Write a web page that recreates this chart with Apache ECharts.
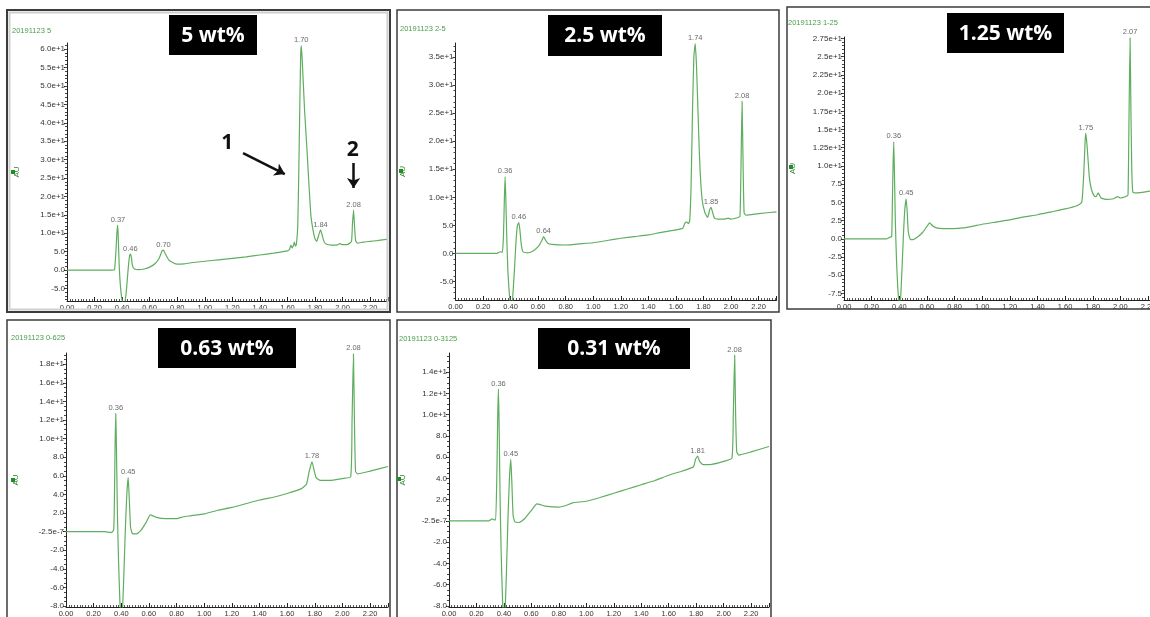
<!DOCTYPE html>
<html><head><meta charset="utf-8">
<script src="https://cdn.jsdelivr.net/npm/echarts@6/dist/echarts.min.js"></script>
<style>html,body{margin:0;padding:0;background:#fff}#c{width:1150px;height:617px}</style>
</head><body><div id="c"></div>
<script>
// ---------- DATA ----------
const concLabels = ['5 wt%', '2.5 wt%', '1.25 wt%', '0.63 wt%', '0.31 wt%'];
const sampleNames = ['20191123 5', '20191123 2-5', '20191123 1-25', '20191123 0-625', '20191123 0-3125'];

const t1 = [0,0.20,0.33,0.345,0.355,0.362,0.368,0.372,0.378,0.385,0.395,0.405,0.418,0.43,0.44,0.448,0.455,0.46,0.467,0.475,0.49,0.52,0.56,0.60,0.64,0.67,0.69,0.70,0.715,0.74,0.77,0.80,0.85,0.90,1.00,1.10,1.20,1.30,1.40,1.50,1.60,1.615,1.625,1.635,1.645,1.65,1.658,1.665,1.675,1.683,1.69,1.696,1.70,1.706,1.715,1.725,1.74,1.755,1.77,1.785,1.80,1.812,1.825,1.84,1.85,1.865,1.88,1.92,1.96,1.98,2.00,2.04,2.065,2.072,2.08,2.087,2.095,2.11,2.15,2.20,2.25,2.33];
const v1 = [0,0,0,0.1,5,10,12.2,9,2,-3,-7,-9,-9,-6,-1.5,2,4,4.35,3.5,1.2,0.3,0.1,0.3,0.8,1.8,3.3,5.2,5.4,4.3,2.7,2.0,1.6,1.7,2.0,2.4,2.8,3.2,3.6,4.1,4.6,5.2,5.6,6.8,6.0,6.8,7.6,6.5,7.0,12,28,45,58,61,58,51,43,34,24,15,11,8.5,7.8,9.2,10.9,9.8,7.8,7.1,6.8,6.8,7.2,6.9,7.0,7.8,12.5,16.3,12,8,7.3,7.6,7.8,8.0,8.4];

const t2 = [0,0.30,0.325,0.34,0.348,0.355,0.36,0.365,0.372,0.38,0.39,0.40,0.41,0.42,0.43,0.44,0.45,0.46,0.468,0.478,0.49,0.52,0.56,0.60,0.625,0.64,0.655,0.67,0.70,0.80,0.90,1.00,1.10,1.20,1.30,1.40,1.50,1.60,1.65,1.665,1.68,1.69,1.70,1.71,1.72,1.73,1.74,1.75,1.765,1.775,1.79,1.81,1.83,1.845,1.855,1.865,1.88,1.90,1.95,1.98,2.00,2.05,2.065,2.072,2.08,2.088,2.095,2.11,2.20,2.33];
const v2 = [0,0,0.3,0.2,3,10,13.7,10,3,-3,-7,-9,-9,-6,-2,2.5,5,5.5,4,1.5,0.3,0.1,0.4,1.2,2.2,3.0,2.3,1.8,1.6,1.5,1.7,1.9,2.3,2.7,3.0,3.3,3.8,4.2,4.5,5.4,5.6,5.3,5.8,12,25,35,37.4,33,21.5,15,9.6,7.3,6.4,7.8,8.2,7.4,6.3,6.1,6.1,6.3,6.1,6.4,6.6,15,27.1,15,7.2,6.8,7.1,7.4];

const t3 = [0,0.31,0.33,0.345,0.35,0.355,0.36,0.365,0.372,0.38,0.39,0.40,0.41,0.42,0.43,0.44,0.45,0.458,0.465,0.48,0.50,0.53,0.57,0.60,0.62,0.64,0.67,0.72,0.80,0.90,1.00,1.10,1.20,1.30,1.40,1.50,1.60,1.68,1.72,1.735,1.745,1.75,1.76,1.775,1.79,1.81,1.825,1.84,1.86,1.90,1.95,1.98,2.00,2.04,2.055,2.062,2.07,2.076,2.082,2.09,2.12,2.20,2.33];
const v3 = [0,0,0.2,0.3,5,10,13.3,9,2,-3,-7,-9,-8,-4,0.5,4,5.5,3.5,1,-0.1,-0.1,0.2,0.9,1.7,2.2,1.8,1.5,1.4,1.4,1.6,2.0,2.3,2.6,3.0,3.3,3.7,4.1,4.5,5.0,9,13.5,14.5,12.5,8.5,6.8,5.9,5.8,6.3,5.6,5.4,5.5,5.8,5.6,5.8,6.0,16,27.6,18,10,6.4,6.3,6.5,6.8];

const t4 = [0,0.28,0.30,0.33,0.345,0.35,0.355,0.36,0.365,0.372,0.38,0.39,0.40,0.41,0.42,0.43,0.44,0.45,0.458,0.467,0.48,0.51,0.54,0.58,0.61,0.63,0.66,0.72,0.80,0.85,0.90,1.00,1.10,1.20,1.30,1.40,1.50,1.60,1.70,1.74,1.76,1.78,1.795,1.81,1.84,1.90,2.00,2.06,2.07,2.08,2.087,2.095,2.11,2.20,2.33];
const v4 = [0,0,-0.05,-0.1,0.2,3,9,12.7,9,2,-3,-7.5,-9,-8,-4,0.5,4,5.8,3.5,0.5,-0.2,-0.25,0.1,1.0,1.8,1.7,1.5,1.4,1.4,1.6,1.7,1.9,2.3,2.6,3.0,3.4,3.7,4.1,4.6,5.1,6.5,7.5,6.6,5.8,5.5,5.5,5.7,5.9,12,19.1,12,6.5,6.2,6.5,7.0];

const t5 = [0,0.29,0.315,0.33,0.34,0.348,0.355,0.36,0.365,0.372,0.38,0.39,0.40,0.41,0.42,0.43,0.44,0.45,0.458,0.467,0.48,0.51,0.55,0.60,0.64,0.66,0.70,0.80,0.85,0.90,1.00,1.10,1.20,1.30,1.40,1.50,1.60,1.70,1.78,1.795,1.81,1.825,1.85,1.90,2.00,2.06,2.07,2.08,2.087,2.095,2.11,2.20,2.33];
const v5 = [0,0,0.2,0.1,0.1,4,10,12.4,9,2,-3,-7.5,-9,-8,-4,0.5,4,5.8,3.5,0.5,-0.1,-0.15,0.2,1.0,1.6,1.55,1.4,1.3,1.45,1.7,1.85,2.2,2.6,3.0,3.4,3.8,4.3,4.7,5.1,5.8,6.1,5.6,5.3,5.3,5.6,5.9,10,15.6,10,6.5,6.2,6.5,7.0];

// peak annotations: position (time, value) and printed retention time
const peakT1 = [0.37,0.46,0.70,1.70,1.84,2.08], peakV1 = [12.2,4.35,5.4,61,10.9,16.3], peakL1 = ['0.37','0.46','0.70','1.70','1.84','2.08'];
const peakT2 = [0.36,0.46,0.64,1.74,1.855,2.08], peakV2 = [13.7,5.5,3.0,37.4,8.2,27.1], peakL2 = ['0.36','0.46','0.64','1.74','1.85','2.08'];
const peakT3 = [0.36,0.45,1.75,2.07], peakV3 = [13.3,5.5,14.5,27.6], peakL3 = ['0.36','0.45','1.75','2.07'];
const peakT4 = [0.36,0.45,1.78,2.08], peakV4 = [12.7,5.8,7.5,19.1], peakL4 = ['0.36','0.45','1.78','2.08'];
const peakT5 = [0.36,0.45,1.81,2.08], peakV5 = [12.4,5.8,6.1,15.6], peakL5 = ['0.36','0.45','1.81','2.08'];

// y tick values and labels
const yTicks1 = [-5,0,5,10,15,20,25,30,35,40,45,50,55,60];
const yLabels1 = ['-5.0','0.0','5.0','1.0e+1','1.5e+1','2.0e+1','2.5e+1','3.0e+1','3.5e+1','4.0e+1','4.5e+1','5.0e+1','5.5e+1','6.0e+1'];
const yTicks2 = [-5,0,5,10,15,20,25,30,35];
const yLabels2 = ['-5.0','0.0','5.0','1.0e+1','1.5e+1','2.0e+1','2.5e+1','3.0e+1','3.5e+1'];
const yTicks3 = [-7.5,-5,-2.5,0,2.5,5,7.5,10,12.5,15,17.5,20,22.5,25,27.5];
const yLabels3 = ['-7.5','-5.0','-2.5','0.0','2.5','5.0','7.5','1.0e+1','1.25e+1','1.5e+1','1.75e+1','2.0e+1','2.25e+1','2.5e+1','2.75e+1'];
const yTicks4 = [-8,-6,-4,-2,0,2,4,6,8,10,12,14,16,18];
const yLabels4 = ['-8.0','-6.0','-4.0','-2.0','-2.5e-7','2.0','4.0','6.0','8.0','1.0e+1','1.2e+1','1.4e+1','1.6e+1','1.8e+1'];
const yTicks5 = [-8,-6,-4,-2,0,2,4,6,8,10,12,14];
const yLabels5 = ['-8.0','-6.0','-4.0','-2.0','-2.5e-7','2.0','4.0','6.0','8.0','1.0e+1','1.2e+1','1.4e+1'];

// panel-1 arrows (data coords) and numbers
const arrowFrom1 = [[1.278,31.8],[2.08,29.1]];
const arrowTo1 = [[1.581,26.1],[2.08,22.3]];
const noteXY1 = [[1.163,34.5],[2.075,32.6]];
const noteText1 = ['1','2'];

// ---------- LAYOUT ----------
const panels = [
  {t:t1,v:v1,pt:peakT1,pv:peakV1,pl:peakL1,yt:yTicks1,yl:yLabels1,minorDiv:5,ymin:-8.4,ymax:61.7,
   grid:{left:67,top:43,width:321,height:258}, frame:[7,10,383,302], box:[169,15,88,40], name:[12,31], sq:[11,170], nameGap:46},
  {t:t2,v:v2,pt:peakT2,pv:peakV2,pl:peakL2,yt:yTicks2,yl:yLabels2,minorDiv:5,ymin:-8.3,ymax:37.5,
   grid:{left:455.5,top:43,width:321,height:257}, frame:[397,10,382,302], box:[548,15,114,41], name:[400,29], sq:[399,169], nameGap:49},
  {t:t3,v:v3,pt:peakT3,pv:peakV3,pl:peakL3,yt:yTicks3,yl:yLabels3,minorDiv:5,ymin:-8.4,ymax:27.7,
   grid:{left:844,top:37,width:322,height:263}, frame:[787,7,380,302], box:[947,13,117,40], name:[788,23], sq:[789,165], nameGap:47},
  {t:t4,v:v4,pt:peakT4,pv:peakV4,pl:peakL4,yt:yTicks4,yl:yLabels4,minorDiv:4,ymin:-8.1,ymax:19.2,
   grid:{left:66,top:353,width:322,height:254}, frame:[7,320,383,320], box:[158,328,138,40], name:[11,338], sq:[11,478], nameGap:46},
  {t:t5,v:v5,pt:peakT5,pv:peakV5,pl:peakL5,yt:yTicks5,yl:yLabels5,minorDiv:4,ymin:-8.1,ymax:15.8,
   grid:{left:449,top:353,width:320,height:254}, frame:[397,320,374,320], box:[538,328,152,41], name:[399,339], sq:[397,477], nameGap:42}
];

const LINE = '#5fae5f';
const TXT = '#333';
const FONT = 'Liberation Sans';

function minorTicks(ticks, div, min, max){
  const step = (ticks[1]-ticks[0])/div, out = [];
  for (let v = ticks[0]-step*div; v <= max + 1e-9; v += step){
    if (v >= min - 1e-9) out.push(+v.toFixed(4));
  }
  return out;
}

const grids = [], xAxes = [], yAxes = [], series = [], graphic = [];
panels.forEach((p, i) => {
  grids.push(Object.assign({outerBoundsMode:'none', containLabel:false}, p.grid));
  xAxes.push({
    gridIndex:i, type:'value', min:0, max:2.33, interval:0.2,
    axisLine:{show:true, onZero:false, lineStyle:{color:'#222', width:1}},
    axisTick:{show:true, inside:true, length:4, lineStyle:{color:'#222'}},
    minorTick:{show:true, splitNumber:10, length:2, lineStyle:{color:'#555'}},
    minorSplitLine:{show:false},
    axisLabel:{fontSize:7.5, color:TXT, margin:3, fontFamily:FONT, showMaxLabel:false,
      formatter:(val)=>val.toFixed(2)},
    splitLine:{show:false}
  });
  const yt = p.yt, yl = p.yl;
  yAxes.push({
    gridIndex:i, type:'value', min:p.ymin, max:p.ymax, position:'left',
    axisLine:{show:true, onZero:false, lineStyle:{color:'#222', width:1}},
    axisTick:{show:true, length:3, customValues:yt, lineStyle:{color:'#222'}},
    axisLabel:{customValues:yt, fontSize:8, color:TXT, margin:2, fontFamily:FONT,
      formatter:(val)=>{ const k = yt.findIndex(x=>Math.abs(x-val)<1e-6); return k>=0 ? yl[k] : ''; }},
    splitLine:{show:false},
    name:'AU', nameLocation:'middle', nameGap:p.nameGap, nameRotate:90,
    nameTextStyle:{fontSize:8, color:'#2f7f2f', fontFamily:FONT}
  });
  yAxes.push({
    gridIndex:i, type:'value', min:p.ymin, max:p.ymax, position:'left', offset:0,
    axisLine:{show:false},
    axisTick:{show:true, length:2, customValues:minorTicks(yt, p.minorDiv, p.ymin, p.ymax), lineStyle:{color:'#444'}},
    axisLabel:{show:false}, splitLine:{show:false}
  });
  const s = {
    type:'line', xAxisIndex:i, yAxisIndex:2*i, data:p.t.map((x,k)=>[x,p.v[k]]),
    symbol:'none', showSymbol:false, smooth:0.15, clip:true, animation:false,
    lineStyle:{color:LINE, width:1.2}
  };
  if (i === 0){
    s.markLine = {
      silent:true, animation:false, symbol:['none','arrow'], symbolSize:10,
      lineStyle:{color:'#111', width:2.5, type:'solid'}, label:{show:false},
      data: arrowFrom1.map((a,k)=>[{coord:a},{coord:arrowTo1[k]}])
    };
    s.markPoint = {
      silent:true, animation:false, symbol:'circle', symbolSize:1,
      itemStyle:{color:'rgba(0,0,0,0)'},
      label:{show:true, position:'inside', formatter:'{b}', fontSize:21, fontWeight:'bold', color:'#111', fontFamily:'Open Sans'},
      data: noteXY1.map((c,k)=>({coord:c, name:noteText1[k]}))
    };
  }
  series.push(s);
  series.push({
    type:'scatter', xAxisIndex:i, yAxisIndex:2*i, silent:true, animation:false, clip:false,
    data:p.pt.map((x,k)=>({value:[x,p.pv[k]], name:p.pl[k]})),
    symbolSize:1, itemStyle:{color:'rgba(0,0,0,0)'},
    label:{show:true, position:'top', distance:1, formatter:'{b}', fontSize:7.5, color:'#444', fontFamily:FONT}
  });
  // frame
  graphic.push({type:'rect', z:50, silent:true,
    shape:{x:p.frame[0], y:p.frame[1], width:p.frame[2], height:p.frame[3]},
    style:{fill:'none', stroke:'#3c3c3c', lineWidth:i===0?2:1.5}});
  if (i === 0){
    graphic.push({type:'rect', z:50, silent:true,
      shape:{x:p.frame[0]+2.5, y:p.frame[1]+2.5, width:p.frame[2]-5, height:p.frame[3]-5},
      style:{fill:'none', stroke:'#cfcfcf', lineWidth:2}});
  }
  // concentration box
  graphic.push({type:'rect', z:60, silent:true,
    shape:{x:p.box[0], y:p.box[1], width:p.box[2], height:p.box[3]},
    style:{fill:'#000'}});
  graphic.push({type:'text', z:61, silent:true, x:p.box[0]+p.box[2]/2, y:p.box[1]+p.box[3]/2+1,
    style:{text:concLabels[i], fill:'#fff', font:'bold 21px "Open Sans"', align:'center', verticalAlign:'middle'}});
  // sample name
  graphic.push({type:'text', z:60, silent:true, x:p.name[0], y:p.name[1],
    style:{text:sampleNames[i], fill:'#4a9e4a', font:'7.5px "Liberation Sans"', align:'left', verticalAlign:'middle'}});
  // green square by AU
  graphic.push({type:'rect', z:60, silent:true, shape:{x:p.sq[0], y:p.sq[1], width:4, height:4}, style:{fill:'#1f8f1f'}});
});

const chart = echarts.init(document.getElementById('c'), null, {renderer:'canvas'});
chart.setOption({
  backgroundColor:'#fff', animation:false,
  grid:grids, xAxis:xAxes, yAxis:yAxes, series:series, graphic:graphic
});
</script></body></html>
